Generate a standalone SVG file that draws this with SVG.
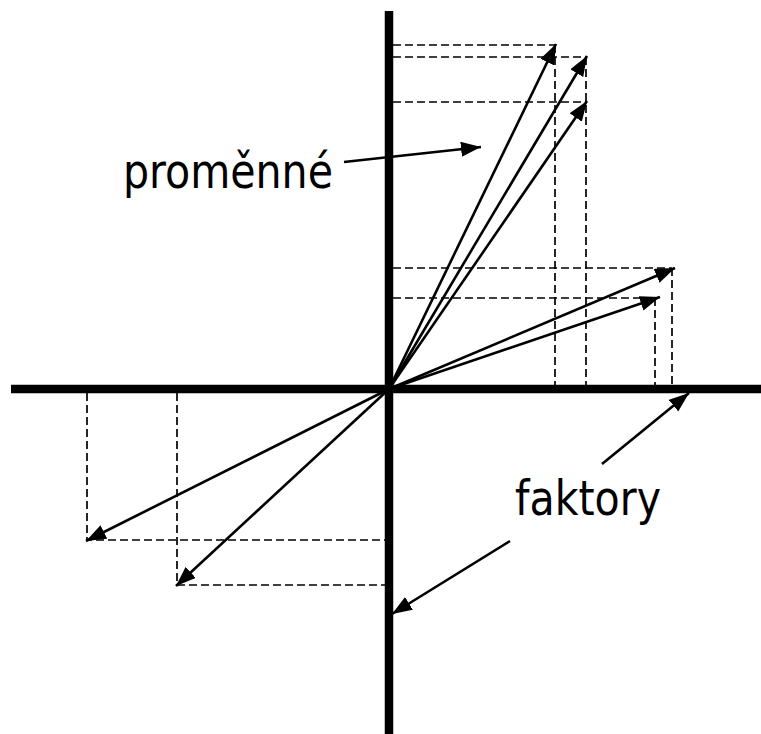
<svg xmlns="http://www.w3.org/2000/svg" width="761" height="734" viewBox="0 0 761 734">
  <style>
    .axis { stroke: #000; stroke-width: 8.5; fill: none; }
    .dash { stroke: #000; stroke-width: 1.7; stroke-dasharray: 8 4; fill: none; }
    .vec { stroke: #000; stroke-width: 2.6; fill: none; marker-end: url(#ah); }
    .lbl { font-family: "DejaVu Sans Condensed", "DejaVu Sans", sans-serif; font-stretch: condensed; font-size: 48px; fill: #000; }
  </style>
  <defs>
    <marker id="ah" markerUnits="userSpaceOnUse" markerWidth="21" markerHeight="16" refX="20" refY="7.5" orient="auto">
      <path d="M0,0 L20,7.5 L0,15 Z" fill="#000"/>
    </marker>
  </defs>
  <rect width="761" height="734" fill="#fff"/>
  <g id="guides">
    <path class="dash" d="M393,45 H555 M393,57 H586 M393,102 H586 M393,268 H672 M393,298 H655"/>
    <path class="dash" d="M555,45 V385 M586,57 V385 M672,268 V385 M655,298 V385"/>
    <path class="dash" d="M87,393 V540 H385 M177,393 V585 H385"/>
  </g>
  <g id="axes">
    <line id="axis-x" class="axis" x1="11" y1="389" x2="761" y2="389"/>
    <line id="axis-y" class="axis" x1="389" y1="11" x2="389" y2="734"/>
  </g>
  <g id="connectors">
    <line class="vec" x1="389" y1="389" x2="556" y2="44"/>
    <line class="vec" x1="389" y1="389" x2="587" y2="56"/>
    <line class="vec" x1="389" y1="389" x2="587" y2="101"/>
    <line class="vec" x1="389" y1="389" x2="675" y2="268"/>
    <line class="vec" x1="389" y1="389" x2="660" y2="297"/>
    <line class="vec" x1="389" y1="389" x2="86" y2="541"/>
    <line class="vec" x1="389" y1="389" x2="176" y2="586"/>
    <line class="vec" x1="344" y1="162" x2="481" y2="147"/>
    <line class="vec" x1="602" y1="464" x2="689" y2="393"/>
    <line class="vec" x1="510" y1="541" x2="392" y2="614"/>
  </g>
  <g id="label-promenne">
    <text class="lbl" x="123" y="188" textLength="210" lengthAdjust="spacingAndGlyphs">proměnné</text>
  </g>
  <g id="label-faktory">
    <text class="lbl" x="515" y="515" textLength="146" lengthAdjust="spacingAndGlyphs">faktory</text>
  </g>
</svg>
